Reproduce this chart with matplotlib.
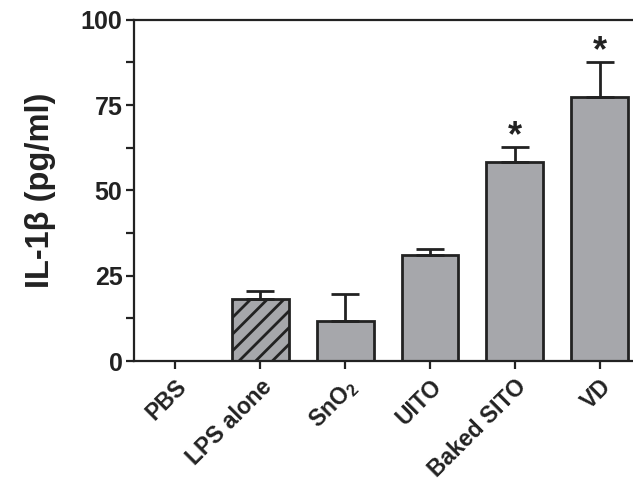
import matplotlib.pyplot as plt
from matplotlib import font_manager
import numpy as np

# pick the regular-width Liberation Sans bold (not the Narrow cut)
bold_file = None
for f in font_manager.fontManager.ttflist:
    if f.name == 'Liberation Sans' and f.weight in (700, 'bold') and f.style == 'normal' \
            and 'Narrow' not in f.fname:
        bold_file = f.fname
if bold_file:
    fp = font_manager.FontProperties(fname=bold_file)
else:
    fp = font_manager.FontProperties(family='DejaVu Sans', weight='bold')

plt.rcParams['font.family'] = ['Liberation Sans', 'DejaVu Sans']
plt.rcParams['font.weight'] = 'bold'
plt.rcParams['mathtext.default'] = 'regular'
plt.rcParams['hatch.linewidth'] = 2.0
plt.rcParams['hatch.color'] = '#222222'

groups = ['PBS', 'LPS alone', 'SnO$_2$', 'UITO', 'Baked SITO', 'VD']
means = [0, 18.3, 11.7, 31.0, 58.2, 77.5]
errs = [0, 2.1, 7.9, 1.8, 4.6, 10.0]
signif = [False, False, False, False, True, True]

ink = '#222222'
fig = plt.figure(figsize=(6.33, 4.84), dpi=100)
ax = fig.add_axes([0.211, 0.254, 0.789, 0.705])

x = np.arange(len(groups))
bars = ax.bar(x, means, width=0.67, color='#a6a7ab', edgecolor=ink, linewidth=2.0, zorder=2)
bars[1].set_hatch('//')

ax.errorbar(x[1:], means[1:], yerr=[np.zeros(len(x) - 1), errs[1:]], fmt='none',
            ecolor=ink, elinewidth=2.0, capsize=10, capthick=2.0, zorder=3)

for xi, m, e, s in zip(x, means, errs, signif):
    if s:
        ax.text(xi, m + e + 0.3, '*', ha='center', va='baseline', fontproperties=fp,
                fontsize=26, color=ink)

ax.set_xlim(-0.49, 5.39)
ax.set_ylim(0, 100)
ax.set_yticks([0, 25, 50, 75, 100])
ax.set_yticks(np.arange(12.5, 100, 25), minor=True)
ax.set_xticks(x)
ax.set_xticklabels(groups, rotation=45, ha='right', rotation_mode='anchor', color=ink)
for lbl in ax.get_xticklabels():
    lbl.set_fontproperties(fp)
    lbl.set_fontsize(16.5)
for lbl in ax.get_yticklabels():
    lbl.set_fontproperties(fp)
    lbl.set_fontsize(18)
    lbl.set_color(ink)

ax.set_ylabel('IL-1β (pg/ml)', fontproperties=fp, fontsize=23.5, color=ink, labelpad=18)

ax.spines['right'].set_visible(False)
for sp in ['left', 'bottom', 'top']:
    ax.spines[sp].set_linewidth(1.6)
    ax.spines[sp].set_color(ink)
ax.tick_params(axis='both', which='major', length=6, width=1.6, color=ink, pad=2)
ax.tick_params(axis='x', which='major', pad=4)
ax.tick_params(axis='y', which='minor', length=6, width=1.6, color=ink)

fig.savefig('out.png', dpi=100)
